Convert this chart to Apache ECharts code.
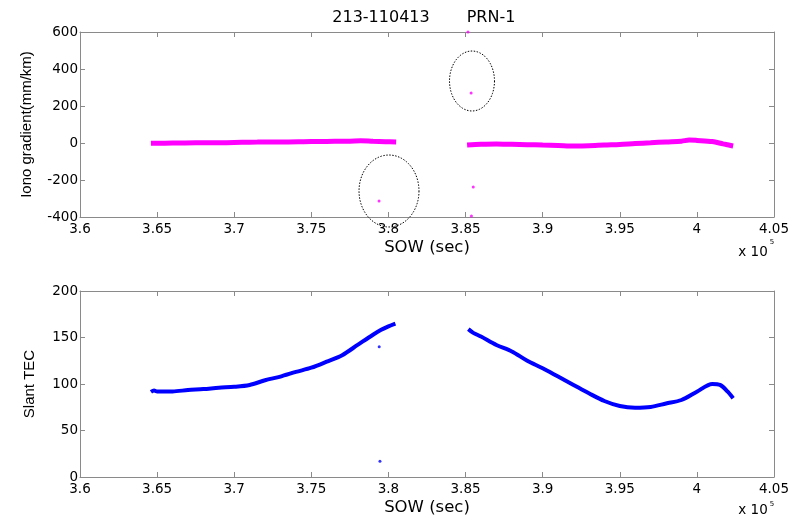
<!DOCTYPE html>
<html><head><meta charset="utf-8">
<script src="https://cdn.jsdelivr.net/npm/echarts@6/dist/echarts.min.js"></script>
<style>html,body{margin:0;padding:0;background:#fff}#c{width:801px;height:517px}</style>
</head><body><div id="c"></div>
<script>
// ---- data (SOW in units of 1e5 s) ----
const titleDate = '213-110413';
const titlePrn = 'PRN-1';
const xTicks = [3.6, 3.65, 3.7, 3.75, 3.8, 3.85, 3.9, 3.95, 4.0, 4.05];
const gradTicks = [-400, -200, 0, 200, 400, 600];
const tecTicks = [0, 50, 100, 150, 200];

// Iono gradient, first arc
const grad1X = [3.646, 3.655, 3.665, 3.675, 3.685, 3.695, 3.705, 3.715, 3.725, 3.735, 3.745, 3.755, 3.765, 3.775, 3.782, 3.79, 3.798, 3.805];
const grad1Y = [-2, -1, 0, 1, 1, 2, 4, 5, 6, 6, 7, 8, 9, 10, 12, 9, 7, 5];
// Iono gradient, second arc
const grad2X = [3.851, 3.86, 3.87, 3.88, 3.89, 3.90, 3.91, 3.92, 3.93, 3.94, 3.95, 3.96, 3.97, 3.98, 3.99, 3.995, 4.0, 4.01, 4.017, 4.0235];
const grad2Y = [-11, -7, -5, -7, -9, -11, -13, -16, -15, -11, -8, -3, 1, 6, 10, 16, 14, 8, -5, -16];
// Iono gradient outliers
const gradOutX = [3.7939, 3.8516, 3.8536, 3.855, 3.8538];
const gradOutY = [-313, 600, 270, -238, -395];

// Slant TEC, first arc
const tec1X = [3.646, 3.648, 3.65, 3.66, 3.67, 3.68, 3.69, 3.70, 3.71, 3.72, 3.73, 3.74, 3.75, 3.76, 3.77, 3.78, 3.79, 3.795, 3.80, 3.8045];
const tec1Y = [91.5, 93, 92, 92, 93.5, 94.5, 96, 97, 99, 104, 108, 113, 117.5, 124, 131, 142, 153, 158, 162, 165];
// Slant TEC, second arc
const tec2X = [3.8518, 3.855, 3.86, 3.87, 3.88, 3.89, 3.90, 3.91, 3.92, 3.93, 3.94, 3.95, 3.96, 3.97, 3.98, 3.99, 4.00, 4.01, 4.015, 4.02, 4.0235];
const tec2Y = [159, 155, 151, 142, 135, 125, 117, 108, 99, 90, 81.7, 76.3, 74.5, 75.3, 79, 82.8, 91.7, 100, 99, 91.7, 84.6];
// Slant TEC outliers
const tecOutX = [3.794, 3.7945];
const tecOutY = [140, 17];

const zip = (xs, ys) => xs.map((x, i) => [x, ys[i]]);

const FONT = 'DejaVu Sans, sans-serif';
const VFONT = 'Liberation Sans, Arial, sans-serif';
const frame = '#8a8a8a';
function xAx(gi, pos, showLabel, name) {
  return {
    type: 'value', gridIndex: gi, position: pos, min: xTicks[0], max: xTicks[xTicks.length - 1], interval: 0.05,
    axisLine: { show: true, onZero: false, lineStyle: { color: frame, width: 1 } },
    axisTick: { show: true, inside: true, length: 5, lineStyle: { color: frame } },
    axisLabel: { show: showLabel, color: '#000', fontSize: 13.5, fontFamily: FONT, margin: 5,
      formatter: v => String(+v.toFixed(2)) },
    splitLine: { show: false },
    name: name || '', nameLocation: 'middle', nameGap: 22,
    nameTextStyle: { color: '#000', fontSize: 16.5, fontFamily: FONT }
  };
}
function yAx(gi, pos, ticks, showLabel, name, gap) {
  return {
    type: 'value', gridIndex: gi, position: pos, min: ticks[0], max: ticks[ticks.length - 1],
    interval: ticks[1] - ticks[0],
    axisLine: { show: true, onZero: false, lineStyle: { color: frame, width: 1 } },
    axisTick: { show: true, inside: true, length: 5, lineStyle: { color: frame } },
    axisLabel: { show: showLabel, color: '#000', fontSize: 13.5, fontFamily: FONT, margin: 2 },
    splitLine: { show: false },
    name: name || '', nameLocation: 'middle', nameGap: gap || 40, nameRotate: 90,
    nameTextStyle: { color: '#000', fontSize: 15, fontFamily: VFONT }
  };
}

function ellipsePts(cx, cy, rx, ry) {
  const pts = [];
  for (let i = 0; i < 72; i++) {
    const a = i / 72 * Math.PI * 2;
    pts.push([cx + rx * Math.cos(a), cy + ry * Math.sin(a)]);
  }
  return pts;
}
function txt(x, y, text, size) {
  return { type: 'text', x, y, z: 100,
    style: { text, fontSize: size, fontFamily: FONT, fill: '#000', textAlign: 'center', textVerticalAlign: 'middle' } };
}

const chart = echarts.init(document.getElementById('c'), null, { renderer: 'canvas' });
chart.setOption({
  backgroundColor: '#fff',
  animation: false,
  grid: [
    { left: 80, width: 694, top: 32, height: 185, containLabel: false, outerBoundsMode: 'none' },
    { left: 80, width: 694, top: 291, height: 186, containLabel: false, outerBoundsMode: 'none' }
  ],
  xAxis: [
    xAx(0, 'bottom', true, 'SOW (sec)'),
    xAx(0, 'top', false),
    xAx(1, 'bottom', true, 'SOW (sec)'),
    xAx(1, 'top', false)
  ],
  yAxis: [
    yAx(0, 'left', gradTicks, true, 'Iono gradient(mm/km)', 46),
    yAx(0, 'right', gradTicks, false),
    yAx(1, 'left', tecTicks, true, 'Slant TEC', 43),
    yAx(1, 'right', tecTicks, false)
  ],
  series: [
    { type: 'line', xAxisIndex: 0, yAxisIndex: 0, data: zip(grad1X, grad1Y), showSymbol: false, smooth: 0.3,
      lineStyle: { color: '#ff00ff', width: 5 } },
    { type: 'line', xAxisIndex: 0, yAxisIndex: 0, data: zip(grad2X, grad2Y), showSymbol: false, smooth: 0.3,
      lineStyle: { color: '#ff00ff', width: 5 } },
    { type: 'scatter', xAxisIndex: 0, yAxisIndex: 0, data: zip(gradOutX, gradOutY), symbolSize: 3,
      itemStyle: { color: '#ff00ff' } },
    { type: 'line', xAxisIndex: 2, yAxisIndex: 2, data: zip(tec1X, tec1Y), showSymbol: false, smooth: 0.3,
      lineStyle: { color: '#0000ff', width: 4 } },
    { type: 'line', xAxisIndex: 2, yAxisIndex: 2, data: zip(tec2X, tec2Y), showSymbol: false, smooth: 0.3,
      lineStyle: { color: '#0000ff', width: 4 } },
    { type: 'scatter', xAxisIndex: 2, yAxisIndex: 2, data: zip(tecOutX, tecOutY), symbolSize: 3,
      itemStyle: { color: '#0000ff' } }
  ],
  graphic: [
    txt(381, 17.5, titleDate, 16),
    txt(491, 17.5, titlePrn, 16),
    { type: 'polygon', shape: { points: ellipsePts(389, 191, 30, 36) }, z: 100,
      style: { fill: 'none', stroke: '#000', lineWidth: 1, lineDash: [1.5, 1.5] } },
    { type: 'polygon', shape: { points: ellipsePts(472, 81, 22.5, 30) }, z: 100,
      style: { fill: 'none', stroke: '#000', lineWidth: 1, lineDash: [1.5, 1.5] } },
    txt(753, 252, 'x 10', 13.5),
    txt(772, 242, '5', 7),
    txt(753, 510, 'x 10', 13.5),
    txt(772, 504, '5', 7)
  ]
});
</script></body></html>
